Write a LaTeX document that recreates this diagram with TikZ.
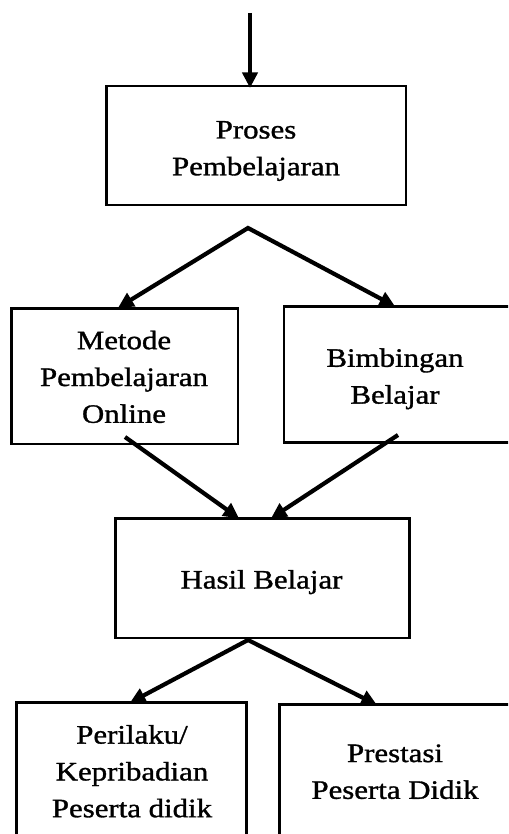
\documentclass[tikz,border=0pt]{standalone}
\usepackage{fontspec}
\setmainfont{Liberation Serif}[FakeStretch=1.16,FakeBold=1.2]
\usetikzlibrary{arrows.meta}
\begin{document}
\begin{tikzpicture}[x=1pt,y=-1pt,
  >={Triangle[length=15.5pt,width=15pt]},
  box/.style={draw, line width=2.6pt, inner sep=0pt, outer sep=0pt},
  txt/.style={align=center, inner sep=0pt, font=\fontsize{26.6}{36.8}\selectfont},
  arr/.style={line width=4.2pt, ->},
  darr/.style={line width=4.2pt, line join=miter, <->}]
\useasboundingbox (0,0) rectangle (508,834);
\clip (0,0) rectangle (508,834);

% boxes
\node[box, minimum width=299.7pt, minimum height=119pt] (proses) at (256.15,145.5) {};
\node[box, minimum width=226.5pt, minimum height=135.3pt] (metode) at (124.55,376.35) {};
\node[box, minimum width=227.2pt, minimum height=136pt] (bimb) at (397.4,374.3) {};
\node[box, minimum width=294.2pt, minimum height=119.7pt] (hasil) at (262.4,578.15) {};
\node[box, minimum width=229.5pt, minimum height=137.3pt] (perilaku) at (131.45,771.35) {};
\node[box, minimum width=231.5pt, minimum height=135.3pt] (prestasi) at (395.25,772.35) {};

% texts
\node[txt] (prosesT) at (256,151) {Proses\\Pembelajaran};
\node[txt] (metodeT) at (124,376.9) {Metode\\Pembelajaran\\Online};
\node[txt] (bimbT) at (395,378.8) {Bimbingan\\Belajar};
\node[txt] (hasilT) at (261.5,582.1) {Hasil Belajar};
\node[txt] (perilakuT) at (132,771.3) {Perilaku/\\Kepribadian\\Peserta didik};
\node[txt] (prestasiT) at (395,771.75) {Prestasi\\Peserta Didik};

% connectors
\coordinate (entry) at (250,13);
\coordinate (pin) at (entry |- proses.north);
\draw[arr] (entry) -- ([yshift=-2pt]pin);

\coordinate (split1) at (248,228);
\draw[darr] ([xshift=-6.5pt,yshift=1pt]metode.north) -- (split1) -- ([xshift=-2.4pt]bimb.north);

\coordinate (m1) at (125,437);
\coordinate (m2) at (398,435);
\draw[arr] (m1) -- ([xshift=-23.4pt]hasil.north);
\draw[arr] (m2) -- ([xshift=8.6pt]hasil.north);

\coordinate (split2) at (248,640);
\draw[darr] ([xshift=-1.5pt]perilaku.north) -- (split2) -- ([xshift=-18.5pt]prestasi.north);
\end{tikzpicture}
\end{document}
